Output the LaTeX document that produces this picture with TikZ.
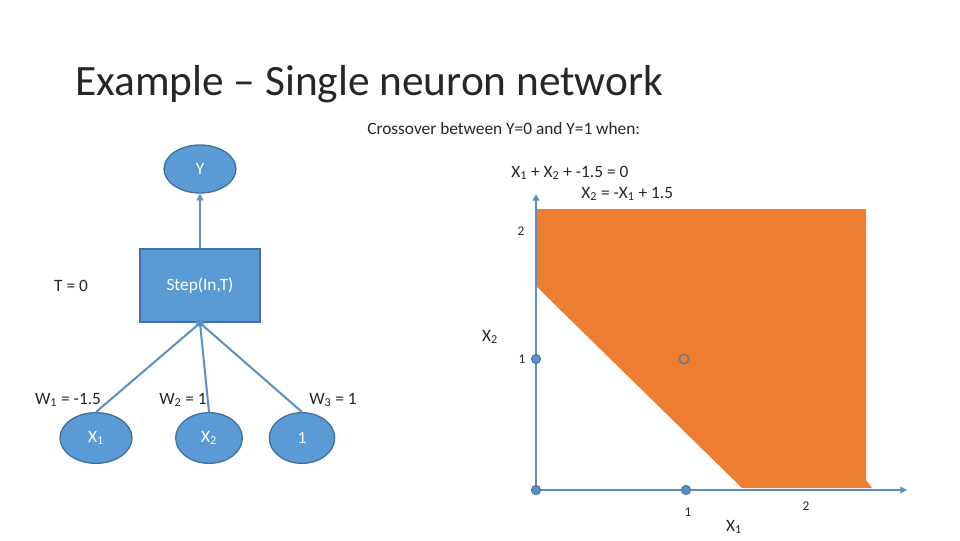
\documentclass[tikz,border=0pt]{standalone}
\usepackage{fontspec}
\setmainfont{Carlito}
\usetikzlibrary{shapes.geometric,arrows.meta}
\definecolor{nfill}{HTML}{5B9BD5}
\definecolor{nedge}{HTML}{41719C}
\definecolor{lblue}{HTML}{5B8EC5}
\definecolor{orng}{HTML}{ED7D31}
\definecolor{txt}{HTML}{262626}
\definecolor{ogray}{HTML}{6A7A90}
\tikzset{
  neuron/.style={ellipse, draw=nedge, fill=nfill, line width=1pt, minimum width=54pt, minimum height=36pt, inner sep=0pt, text=white, font=\fontsize{13}{15}\selectfont},
  stepbox/.style={rectangle, draw=nedge, fill=nfill, line width=1pt, minimum width=90pt, minimum height=54.75pt, inner sep=0pt, text=white, font=\fontsize{13}{15}\selectfont},
  link/.style={draw=lblue, line width=1.5pt},
  axis/.style={draw=lblue, line width=1.5pt, -{Triangle[length=5pt,width=5pt]}},
  lbl/.style={text=txt, font=\fontsize{13}{15}\selectfont, inner sep=0pt},
  small/.style={text=txt, font=\fontsize{10}{12}\selectfont, inner sep=0pt},
  dot/.style={circle, fill=lblue, draw=nedge, line width=0.6pt, minimum size=7pt, inner sep=0pt},
  odot/.style={circle, draw=ogray, line width=1.2pt, minimum size=7pt, inner sep=0pt},
}
\begin{document}
\begin{tikzpicture}[x=0.75pt,y=-0.75pt]
\useasboundingbox (0,0) rectangle (960,540);
% title
\node[anchor=base west, text=txt, font=\fontsize{32.5}{38}\selectfont, inner sep=0pt] (title) at (75,95) {Example -- Single neuron network};
\node[lbl, anchor=base west] (cross) at (367,134) {Crossover between Y=0 and Y=1 when:};
\node[lbl, anchor=base west] (eq1) at (511,177) {X\textsubscript{1} + X\textsubscript{2} + -1.5 = 0};
\node[lbl, anchor=base west] (eq2) at (581,198) {X\textsubscript{2} = -X\textsubscript{1} + 1.5};
% network
\node[neuron] (Y) at (200,169) {Y};
\node[stepbox] (step) at (200,285.5) {Step(In,T)};
\node[lbl] (T) at (71,286) {T = 0};
\coordinate (junc) at (200,323);
\node[neuron, minimum width=54pt, minimum height=38pt] (x1) at (96,438) {X\textsubscript{1}};
\node[neuron, minimum width=50pt, minimum height=38pt] (x2) at (209,438) {X\textsubscript{2}};
\node[neuron, minimum width=49pt, minimum height=38pt] (one) at (302,438) {1};
\draw[link, -{Triangle[length=5pt,width=5pt]}] (step.north) -- (Y.south);
\draw[link] (junc) -- (x1.north);
\draw[link] (junc) -- (x2.north);
\draw[link] (junc) -- (one.north);
\fill[lblue] (junc) circle (3pt);
\node[lbl] (w1) at (68,400) {W\textsubscript{1} = -1.5};
\node[lbl] (w2) at (183,400) {W\textsubscript{2} = 1};
\node[lbl] (w3) at (333,400) {W\textsubscript{3} = 1};
% plot
\fill[orng] (537,209) -- (866,209) -- (866,480) -- (872,488) -- (742,488) -- (537,287) -- cycle;
\coordinate (O) at (536,490);
\coordinate (ytop) at (536,194);
\coordinate (xend) at (907,490);
\draw[axis] (O) -- (ytop);
\draw[axis] (O) -- (xend);
\node[dot] (p00) at (536,490) {};
\node[dot] (p01) at (536,359) {};
\node[dot] (p10) at (686,490) {};
\node[odot] (p11) at (684,359) {};
\node[small] (y2) at (521,231) {2};
\node[small] (y1) at (522,359) {1};
\node[lbl] (X2) at (490,337) {X\textsubscript{2}};
\node[small] (x1l) at (688,512) {1};
\node[lbl] (X1) at (734,527) {X\textsubscript{1}};
\node[small] (x2l) at (806,506) {2};
\end{tikzpicture}
\end{document}
